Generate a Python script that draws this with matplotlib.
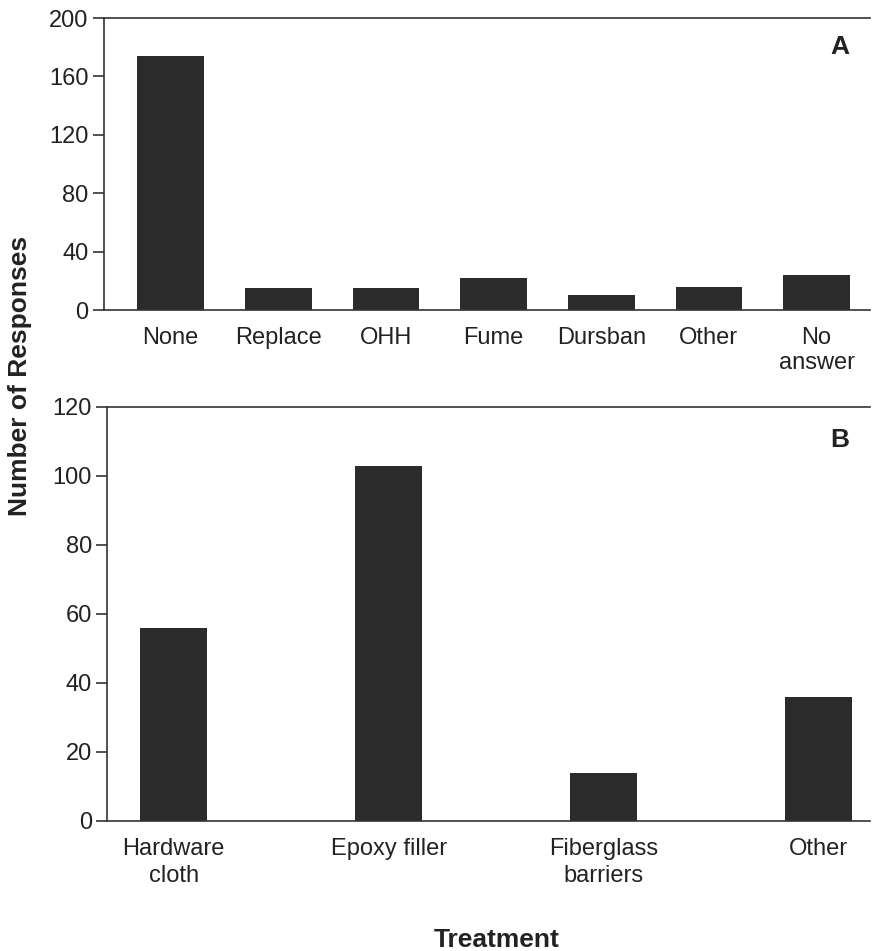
import matplotlib.pyplot as plt

plt.rcParams['font.family'] = ['Liberation Sans', 'DejaVu Sans']

# panel A: current treatment
cats_a = ['None', 'Replace', 'OHH', 'Fume', 'Dursban', 'Other', 'No\nanswer']
vals_a = [174, 15, 15, 22, 10, 16, 24]

# panel B: preventive measures
cats_b = ['Hardware\ncloth', 'Epoxy filler', 'Fiberglass\nbarriers', 'Other']
vals_b = [56, 103, 14, 36]

bar_color = '#2b2b2b'
text_color = '#222222'

fig = plt.figure(figsize=(8.73, 9.51), dpi=100)
ax_a = fig.add_axes([0.119, 0.674, 0.878, 0.307])
ax_b = fig.add_axes([0.1226, 0.1367, 0.8744, 0.4355])


def style(ax):
    ax.spines['right'].set_visible(False)
    for s in ['left', 'bottom', 'top']:
        ax.spines[s].set_color('#333333')
        ax.spines[s].set_linewidth(1.2)
    ax.tick_params(axis='y', direction='out', length=8, width=1.2,
                   color='#333333', labelsize=17, labelcolor=text_color, pad=3)
    ax.tick_params(axis='x', length=0, labelsize=17, labelcolor=text_color)


ax_a.bar(range(len(cats_a)), vals_a, width=0.62, color=bar_color)
ax_a.set_xlim(-0.62, 6.5)
ax_a.set_ylim(0, 200)
ax_a.set_yticks(range(0, 201, 40))
ax_a.set_xticks(range(len(cats_a)))
ax_a.set_xticklabels(cats_a, linespacing=1.2)
style(ax_a)
ax_a.tick_params(axis='x', pad=12)
ax_a.text(0.96, 0.9, 'A', transform=ax_a.transAxes, fontsize=19,
          fontweight='bold', color=text_color, ha='center', va='center')

ax_b.bar(range(len(cats_b)), vals_b, width=0.31, color=bar_color)
ax_b.set_xlim(-0.31, 3.24)
ax_b.set_ylim(0, 120)
ax_b.set_yticks(range(0, 121, 20))
ax_b.set_xticks(range(len(cats_b)))
ax_b.set_xticklabels(cats_b, linespacing=1.3)
style(ax_b)
ax_b.tick_params(axis='x', pad=12)
ax_b.text(0.96, 0.92, 'B', transform=ax_b.transAxes, fontsize=19,
          fontweight='bold', color=text_color, ha='center', va='center')

fig.text(0.023, 0.605, 'Number of Responses', rotation=90, fontsize=19,
         fontweight='bold', color=text_color, ha='center', va='center')
fig.text(0.569, 0.012, 'Treatment', fontsize=19, fontweight='bold',
         color=text_color, ha='center', va='center')

fig.savefig('out.png', dpi=100)
